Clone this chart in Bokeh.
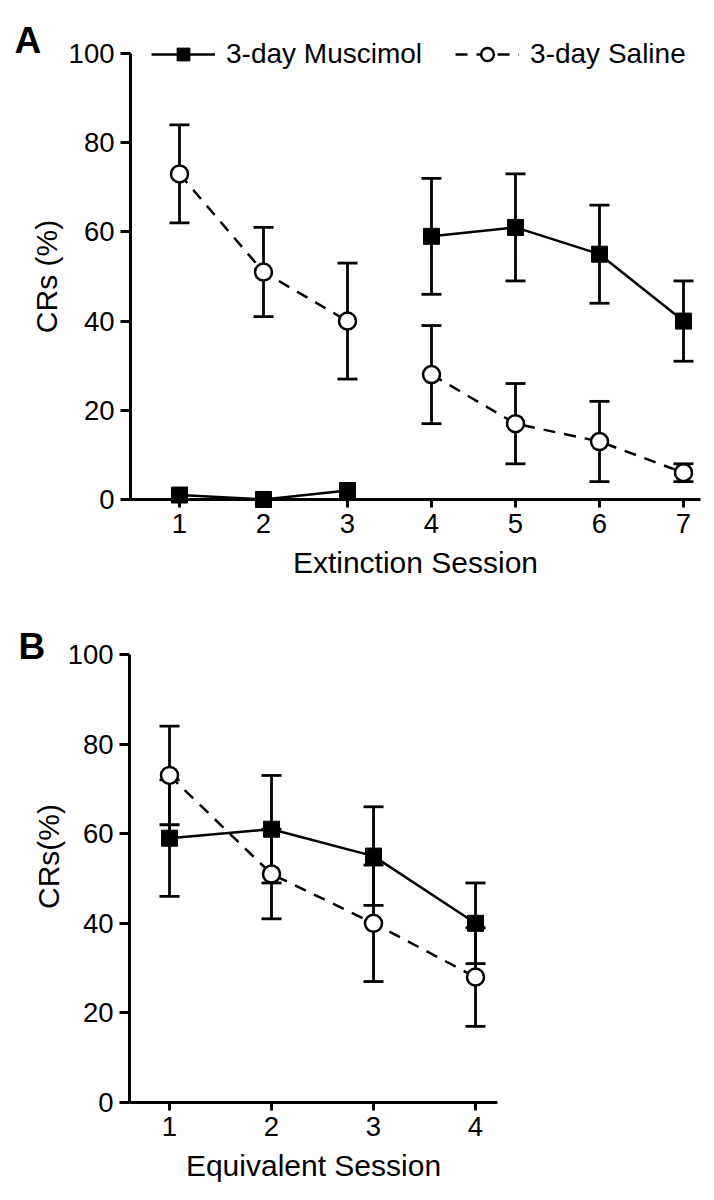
import math
from bokeh.plotting import figure
from bokeh.models import (Range1d, ColumnDataSource, Whisker, TeeHead, Legend,
                          LegendItem, Label, FixedTicker)
from bokeh.layouts import column
from bokeh.embed import file_html
from bokeh.resources import INLINE

# ---------------- data ----------------
sessions_a = [1, 2, 3, 4, 5, 6, 7]
muscimol_a = [1, 0, 2, 59, 61, 55, 40]
muscimol_a_sem = [0, 0, 0, 13, 12, 11, 9]
saline_a = [73, 51, 40, 28, 17, 13, 6]
saline_a_sem = [11, 10, 13, 11, 9, 9, 2]
break_a = 3  # lines interrupted between session 3 and 4

sessions_b = [1, 2, 3, 4]
muscimol_b = [59, 61, 55, 40]
muscimol_b_sem = [13, 12, 11, 9]
saline_b = [73, 51, 40, 28]
saline_b_sem = [11, 10, 13, 11]

y_ticks = [0, 20, 40, 60, 80, 100]
legend_labels = ["3-day Muscimol", "3-day Saline"]

FONT = "Liberation Sans"
NAN = float("nan")


def broken(xs, ys, brk):
    if brk is None:
        return list(xs), list(ys)
    return (list(xs[:brk]) + [NAN] + list(xs[brk:]),
            list(ys[:brk]) + [NAN] + list(ys[brk:]))


def add_err(p, xs, ys, sems):
    idx = [i for i, s in enumerate(sems) if s > 0]
    src = ColumnDataSource(dict(x=[xs[i] for i in idx],
                                lo=[ys[i] - sems[i] for i in idx],
                                hi=[ys[i] + sems[i] for i in idx]))
    w = Whisker(source=src, base="x", lower="lo", upper="hi", dimension="height",
                line_width=2.8, line_color="black", level="underlay",
                upper_head=TeeHead(size=20, line_width=2.8, line_color="black"),
                lower_head=TeeHead(size=20, line_width=2.8, line_color="black"))
    p.add_layout(w)


def panel(sessions, mus, mus_sem, sal, sal_sem, brk, xr, yr, xbounds, fw, fh,
          xlabel, ylabel, ylabel_pos, letter, letter_pos, legend_loc):
    p = figure(frame_width=fw, frame_height=fh, title=None,
               x_range=Range1d(*xr), y_range=Range1d(*yr),
               output_backend="svg", toolbar_location=None, tools="",
               min_border=0)
    p.grid.visible = False
    p.outline_line_color = None
    p.background_fill_color = "white"
    p.border_fill_color = "white"

    xa = p.xaxis[0]
    ya = p.yaxis[0]
    xa.fixed_location = 0
    ya.fixed_location = xbounds[0]
    xa.bounds = xbounds
    ya.bounds = (0, 100)
    xa.ticker = FixedTicker(ticks=sessions)
    ya.ticker = FixedTicker(ticks=y_ticks)
    for ax in (xa, ya):
        ax.axis_line_width = 3
        ax.axis_line_color = "black"
        ax.major_tick_line_width = 3
        ax.major_tick_line_color = "black"
        ax.major_tick_out = 10
        ax.major_tick_in = 0
        ax.minor_tick_line_color = None
        ax.major_label_text_font = FONT
        ax.major_label_text_font_size = "27.5px"
        ax.major_label_text_color = "black"
        ax.axis_label_text_font = FONT
        ax.axis_label_text_font_size = "30px"
        ax.axis_label_text_font_style = "normal"
        ax.axis_label_text_color = "black"
    xa.major_tick_out = 8
    xa.major_label_standoff = 7
    xa.axis_label_standoff = 9
    ya.major_label_standoff = 6
    xa.axis_label = xlabel

    add_err(p, sessions, mus, mus_sem)
    add_err(p, sessions, sal, sal_sem)

    mx, my = broken(sessions, mus, brk)
    sx, sy = broken(sessions, sal, brk)
    l_m = p.line(mx, my, line_width=2.5, line_color="black")
    l_s = p.line(sx, sy, line_width=2.5, line_color="black", line_dash="12 9")
    s_m = p.scatter(sessions, mus, marker="square", size=16,
                    fill_color="black", line_color="black")
    s_s = p.scatter(sessions, sal, marker="circle", size=17, fill_color="white",
                    line_color="black", line_width=2.5)

    if legend_loc is not None:
        leg = Legend(items=[LegendItem(label=legend_labels[0], renderers=[l_m, s_m]),
                            LegendItem(label=legend_labels[1], renderers=[l_s, s_s])],
                     location=legend_loc, orientation="horizontal",
                     margin=0, padding=0, spacing=33,
                     glyph_width=64, glyph_height=32, label_height=32,
                     label_standoff=11, label_text_font=FONT,
                     label_text_font_size="28px", label_text_color="black",
                     border_line_color=None, background_fill_alpha=0)
        p.add_layout(leg)

    p.add_layout(Label(x=ylabel_pos[0], y=ylabel_pos[1], x_units="screen",
                       y_units="screen", text=ylabel, angle=math.pi / 2,
                       text_align="center", text_baseline="middle",
                       text_font=FONT, text_font_size="30px", text_color="black"))
    p.add_layout(Label(x=letter_pos[0], y=letter_pos[1], x_units="screen",
                       y_units="screen", text=letter, text_font=FONT,
                       text_font_style="bold", text_font_size="37px",
                       text_color="black", text_baseline="alphabetic"))
    return p


pa = panel(sessions_a, muscimol_a, muscimol_a_sem, saline_a, saline_a_sem, break_a,
           (-1.131, 7.369), (-22.65, 111.88), (0.4167, 7.202), 714, 600,
           "Extinction Session", "CRs (%)", (46, 324), "A", (14, 560), (151, 530))
pb = panel(sessions_b, muscimol_b, muscimol_b_sem, saline_b, saline_b_sem, None,
           (-0.657, 4.441), (-21.875, 112.05), (0.608, 4.216), 520, 600,
           "Equivalent Session", "CRs(%)", (48, 344), "B", (18, 554), None)

layout = column(pa, pb)
open("out.html", "w").write(file_html(layout, INLINE))
